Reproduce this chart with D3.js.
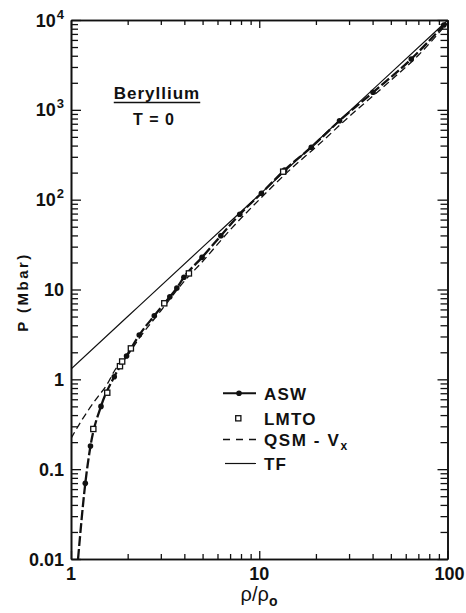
<!DOCTYPE html>
<html>
<head>
<meta charset="utf-8">
<script src="https://cdn.jsdelivr.net/npm/d3@7"></script>
<style>
  html, body { margin: 0; padding: 0; background: #fff; }
  svg { display: block; }
  text { font-family: "Liberation Sans", Arial, sans-serif; fill: #111; }
</style>
</head>
<body>
<svg id="chart" width="466" height="613"></svg>
<script>
// Beryllium cold (T = 0) equation of state: pressure vs compression

// ASW (augmented spherical wave) — first entry is where the curve leaves the axis
const aswRho = [1.09, 1.191, 1.269, 1.443, 1.697, 1.973, 2.304, 2.77, 3.35, 3.65, 3.98, 4.97, 6.25, 7.88, 10.27, 13.65, 18.9, 26.7, 40.2, 64.2, 95.6];
const aswP   = [0.01, 0.0695, 0.181, 0.50, 1.07, 1.82, 3.11, 5.1, 8.3, 10.4, 13.7, 22.8, 39.7, 68.7, 118, 214, 383, 757, 1567, 3680, 8800];

// LMTO (linear muffin-tin orbital)
const lmtoRho = [1.314, 1.558, 1.82, 1.87, 2.08, 3.13, 4.23, 13.4];
const lmtoP   = [0.28, 0.71, 1.40, 1.58, 2.21, 7.02, 15.1, 205];

// QSM with exchange
const qsmRho = [1, 1.14, 1.369, 1.547, 1.712, 2.0, 2.3, 3, 4, 5, 7, 10, 15, 20, 30, 50, 70, 100];
const qsmP   = [0.22, 0.35, 0.615, 0.865, 1.27, 1.85, 2.85, 5.8, 12.4, 20.5, 46, 100, 228, 385, 840, 2130, 4050, 9300];

// Thomas-Fermi
const tfRho = [1, 2, 5, 10, 20, 50, 100];
const tfP   = [1.30, 5.0, 29.6, 113, 436, 2580, 9890];

// Axis ticks
const xMajor = [1, 10, 100];
const xMajorLabels = ["1", "10", "100"];
const yMajor = [0.01, 0.1, 1, 10, 100, 1000, 10000];
const yLabelBase = ["0.01", "0.1", "1", "10", "10", "10", "10"];
const yLabelExp  = ["", "", "", "", "2", "3", "4"];

const legendNames = ["ASW", "LMTO", "QSM - V", "TF"];

const svg = d3.select("#chart");
const plotL = 71, plotR = 447.5, plotT = 20, plotB = 559;

const x = d3.scaleLog().domain([1, 100]).range([plotL, plotR]);
const y = d3.scaleLog().domain([0.01, 10000]).range([plotB, plotT]);

// minor tick positions inside each decade
const xMinor = [];
[1, 10].forEach(d => { for (let k = 2; k <= 9; k++) xMinor.push(d * k); });
const yMinor = [];
[0.01, 0.1, 1, 10, 100, 1000].forEach(d => { for (let k = 2; k <= 9; k++) yMinor.push(d * k); });

function styleAxis(g) {
  g.selectAll("path.domain").attr("stroke", "#111").attr("stroke-width", 1.6);
  g.selectAll(".tick line").attr("stroke", "#111").attr("stroke-width", 1.3);
  g.selectAll(".tick text").remove();
}

// frame with inward ticks on all four sides
const axes = [
  [() => d3.axisBottom(x), `translate(0,${plotB})`, xMajor, xMinor, -8, -5],
  [() => d3.axisTop(x), `translate(0,${plotT})`, xMajor, xMinor, -8, -5],
  [() => d3.axisLeft(y), `translate(${plotL},0)`, yMajor, yMinor, -10, -7],
  [() => d3.axisRight(y), `translate(${plotR},0)`, yMajor, yMinor, -10, -7]
];
axes.forEach(([mk, tr, maj, min, lMaj, lMin]) => {
  svg.append("g").attr("transform", tr)
    .call(mk().tickValues(maj).tickSizeInner(lMaj).tickSizeOuter(0).tickFormat(() => ""))
    .call(styleAxis);
  svg.append("g").attr("transform", tr)
    .call(mk().tickValues(min).tickSizeInner(lMin).tickSizeOuter(0).tickFormat(() => ""))
    .call(styleAxis);
});

// tick labels
const tickFont = 18;
svg.append("g").selectAll("text").data(xMajor).join("text")
  .attr("x", (d, i) => x(d) + (i === 2 ? 2 : 0))
  .attr("y", 580)
  .attr("text-anchor", "middle")
  .attr("font-size", tickFont)
  .attr("font-weight", "bold")
  .text((d, i) => xMajorLabels[i]);

const yl = svg.append("g").selectAll("text").data(yMajor).join("text")
  .attr("x", 64)
  .attr("y", d => y(d) + 6.5)
  .attr("text-anchor", "end")
  .attr("font-size", tickFont)
  .attr("font-weight", "bold");
yl.append("tspan").text((d, i) => yLabelBase[i]);
yl.append("tspan")
  .attr("dy", (d, i) => yLabelExp[i] ? -8 : 0)
  .attr("dx", (d, i) => yLabelExp[i] ? 1 : 0)
  .attr("font-size", 13)
  .text((d, i) => yLabelExp[i]);

// axis titles
svg.append("text")
  .attr("transform", "translate(28,292) rotate(-90)")
  .attr("text-anchor", "middle")
  .attr("font-size", 15)
  .attr("font-weight", "bold")
  .attr("letter-spacing", 2.5)
  .text("P (Mbar)");

const xt = svg.append("text")
  .attr("x", 259).attr("y", 601)
  .attr("text-anchor", "middle")
  .attr("font-size", 20)
  .attr("font-family", "DejaVu Sans, sans-serif");
xt.append("tspan").text("ρ/ρ");
xt.append("tspan").attr("dy", 5).attr("font-size", 14).attr("font-weight", "bold").text("o");

// plot contents clipped to the frame
svg.append("clipPath").attr("id", "plot-clip")
  .append("rect").attr("x", plotL).attr("y", plotT).attr("width", plotR - plotL).attr("height", plotB - plotT);
const plot = svg.append("g").attr("clip-path", "url(#plot-clip)");

const line = d3.line().x(d => x(d[0])).y(d => y(d[1])).curve(d3.curveMonotoneX);
const zip = (a, b) => a.map((v, i) => [v, b[i]]);

plot.append("path").datum(zip(tfRho, tfP))
  .attr("d", line).attr("fill", "none").attr("stroke", "#111").attr("stroke-width", 1.2);

plot.append("path").datum(zip(qsmRho, qsmP))
  .attr("d", line).attr("fill", "none").attr("stroke", "#111").attr("stroke-width", 1.3)
  .attr("stroke-dasharray", "7,4");

plot.append("path").datum(zip(aswRho, aswP))
  .attr("d", line).attr("fill", "none").attr("stroke", "#111").attr("stroke-width", 2.3)
  .attr("stroke-dasharray", "10,3");

plot.append("g").selectAll("circle").data(zip(aswRho, aswP).slice(1)).join("circle")
  .attr("cx", d => x(d[0])).attr("cy", d => y(d[1])).attr("r", 2.8).attr("fill", "#111");

plot.append("g").selectAll("rect").data(zip(lmtoRho, lmtoP)).join("rect")
  .attr("x", d => x(d[0]) - 2.6).attr("y", d => y(d[1]) - 2.6)
  .attr("width", 5.2).attr("height", 5.2)
  .attr("fill", "#fff").attr("stroke", "#111").attr("stroke-width", 1.3);

// title block
const title = svg.append("text")
  .attr("x", 157).attr("y", 99)
  .attr("text-anchor", "middle")
  .attr("font-size", 17)
  .attr("font-weight", "bold")
  .attr("letter-spacing", 1)
  .text("Beryllium");
const tw = title.node().getComputedTextLength();
svg.append("line")
  .attr("x1", 157 - tw / 2).attr("x2", 157 + tw / 2)
  .attr("y1", 102.5).attr("y2", 102.5)
  .attr("stroke", "#111").attr("stroke-width", 1.6);
svg.append("text")
  .attr("x", 154).attr("y", 125)
  .attr("text-anchor", "middle")
  .attr("font-size", 16)
  .attr("font-weight", "bold")
  .attr("letter-spacing", 1)
  .text("T = 0");

// legend
const lg = svg.append("g");
const rowsY = [393.3, 418.3, 439.5, 463.5];
lg.append("line").attr("x1", 223).attr("x2", 256).attr("y1", rowsY[0]).attr("y2", rowsY[0])
  .attr("stroke", "#111").attr("stroke-width", 2);
lg.append("circle").attr("cx", 239).attr("cy", rowsY[0]).attr("r", 2.8).attr("fill", "#111");
lg.append("rect").attr("x", 238.3 - 2.6).attr("y", rowsY[1] - 2.6).attr("width", 5.2).attr("height", 5.2)
  .attr("fill", "#fff").attr("stroke", "#111").attr("stroke-width", 1.3);
lg.append("line").attr("x1", 223).attr("x2", 257).attr("y1", rowsY[2]).attr("y2", rowsY[2])
  .attr("stroke", "#111").attr("stroke-width", 1.3).attr("stroke-dasharray", "7,6");
lg.append("line").attr("x1", 225).attr("x2", 256).attr("y1", rowsY[3]).attr("y2", rowsY[3])
  .attr("stroke", "#111").attr("stroke-width", 1.2);

const lt = lg.selectAll("text.leg").data(legendNames).join("text")
  .attr("class", "leg")
  .attr("x", 264)
  .attr("y", (d, i) => rowsY[i] + 6.3)
  .attr("font-size", 17)
  .attr("font-weight", "bold")
  .attr("letter-spacing", (d, i) => i === 2 ? 1.6 : 1.2);
lt.append("tspan").text(d => d);
lt.filter((d, i) => i === 2).append("tspan")
  .attr("dy", 4).attr("font-size", 12).text("x");
</script>
</body>
</html>
